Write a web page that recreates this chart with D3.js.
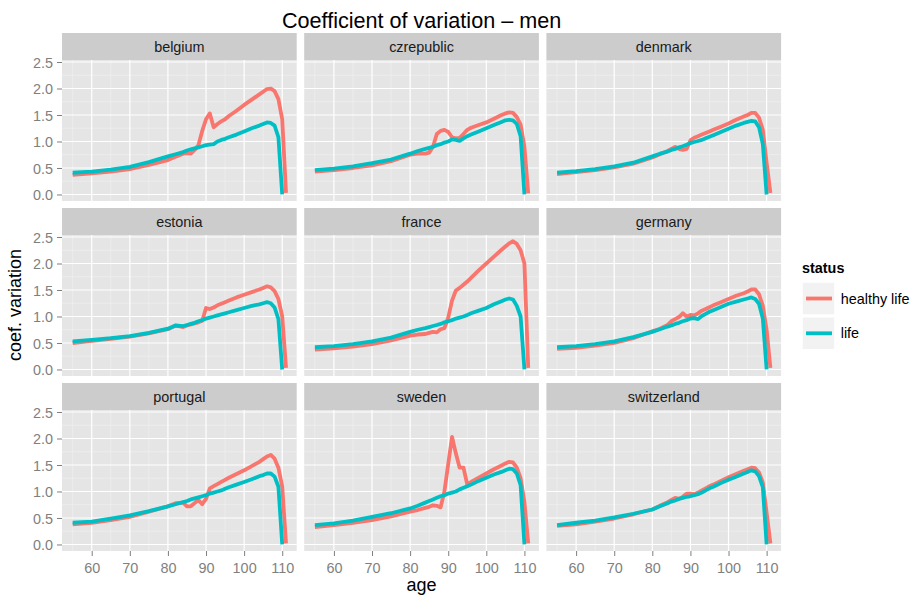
<!DOCTYPE html>
<html>
<head>
<meta charset="utf-8">
<script src="https://cdn.jsdelivr.net/npm/d3@7"></script>
<style>
  body { margin: 0; background: #ffffff; }
  svg { display: block; font-family: "Liberation Sans", Arial, Helvetica, sans-serif; }
</style>
</head>
<body>
<svg id="chart" width="914" height="597"></svg>
<script>
// Ages at which the coefficient of variation is given
const ages = [55, 60, 65, 70, 75, 80, 82, 84, 85, 86, 87, 88, 89, 90, 91, 92, 93, 94, 95, 96, 98, 100, 102, 104, 105, 106, 107, 108, 109, 110, 111];

const countries = ["belgium", "czrepublic", "denmark", "estonia", "france", "germany", "portugal", "sweden", "switzerland"];
const statuses = ["healthy life", "life"];

// "life" series end at age 110 (null at 111)
const belgiumLife      = [0.41, 0.43, 0.47, 0.52, 0.61, 0.72, 0.76, 0.80, 0.83, 0.85, 0.87, 0.89, 0.91, 0.93, 0.94, 0.95, 1.00, 1.03, 1.05, 1.08, 1.13, 1.19, 1.25, 1.30, 1.33, 1.36, 1.35, 1.30, 1.08, 0.00, null];
const belgiumHealthy   = [0.37, 0.40, 0.43, 0.48, 0.56, 0.65, 0.71, 0.77, 0.78, 0.77, 0.84, 0.93, 1.20, 1.42, 1.53, 1.27, 1.33, 1.38, 1.42, 1.48, 1.58, 1.69, 1.79, 1.89, 1.94, 1.99, 2.00, 1.95, 1.80, 1.42, 0.03];

const czrepublicLife   = [0.46, 0.49, 0.53, 0.59, 0.66, 0.77, 0.82, 0.86, 0.88, 0.90, 0.93, 0.95, 0.98, 1.00, 1.04, 1.03, 1.01, 1.06, 1.10, 1.13, 1.19, 1.25, 1.31, 1.37, 1.40, 1.41, 1.40, 1.33, 1.10, 0.00, null];
const czrepublicHealthy= [0.43, 0.46, 0.50, 0.55, 0.63, 0.75, 0.77, 0.77, 0.79, 0.90, 1.14, 1.20, 1.22, 1.18, 1.08, 1.06, 1.07, 1.14, 1.22, 1.26, 1.31, 1.36, 1.43, 1.50, 1.53, 1.55, 1.54, 1.46, 1.32, 0.90, 0.02];

const denmarkLife      = [0.41, 0.44, 0.48, 0.53, 0.60, 0.72, 0.77, 0.81, 0.84, 0.86, 0.89, 0.91, 0.94, 0.97, 0.99, 1.01, 1.03, 1.06, 1.09, 1.12, 1.18, 1.24, 1.30, 1.35, 1.37, 1.39, 1.38, 1.27, 0.95, 0.00, null];
const denmarkHealthy   = [0.385, 0.42, 0.46, 0.51, 0.58, 0.70, 0.76, 0.82, 0.86, 0.90, 0.86, 0.84, 0.86, 1.02, 1.07, 1.10, 1.13, 1.16, 1.19, 1.22, 1.28, 1.34, 1.41, 1.47, 1.50, 1.54, 1.54, 1.45, 1.22, 0.60, 0.03];

const estoniaLife      = [0.53, 0.56, 0.59, 0.63, 0.69, 0.77, 0.83, 0.82, 0.84, 0.86, 0.88, 0.91, 0.93, 0.96, 0.98, 1.00, 1.02, 1.04, 1.06, 1.08, 1.12, 1.16, 1.20, 1.23, 1.25, 1.27, 1.25, 1.17, 0.95, 0.00, null];
const estoniaHealthy   = [0.50, 0.54, 0.58, 0.62, 0.68, 0.76, 0.83, 0.80, 0.83, 0.85, 0.87, 0.89, 0.92, 1.16, 1.14, 1.17, 1.21, 1.24, 1.27, 1.30, 1.36, 1.41, 1.46, 1.51, 1.54, 1.57, 1.55, 1.48, 1.33, 1.00, 0.03];

const franceLife       = [0.42, 0.44, 0.48, 0.53, 0.60, 0.71, 0.75, 0.78, 0.80, 0.82, 0.84, 0.86, 0.89, 0.91, 0.93, 0.96, 0.98, 1.00, 1.03, 1.06, 1.11, 1.16, 1.23, 1.29, 1.32, 1.34, 1.32, 1.20, 1.00, 0.00, null];
const franceHealthy    = [0.375, 0.40, 0.43, 0.48, 0.55, 0.64, 0.66, 0.67, 0.69, 0.71, 0.70, 0.76, 0.78, 0.98, 1.30, 1.49, 1.54, 1.60, 1.66, 1.73, 1.87, 2.00, 2.13, 2.26, 2.32, 2.38, 2.42, 2.37, 2.25, 2.00, 0.03];

const germanyLife      = [0.42, 0.44, 0.48, 0.53, 0.61, 0.71, 0.76, 0.81, 0.83, 0.86, 0.88, 0.91, 0.93, 0.96, 0.97, 0.95, 1.01, 1.05, 1.09, 1.12, 1.18, 1.24, 1.28, 1.32, 1.34, 1.36, 1.33, 1.24, 0.96, 0.00, null];
const germanyHealthy   = [0.39, 0.41, 0.45, 0.50, 0.59, 0.72, 0.77, 0.84, 0.91, 0.95, 0.99, 1.06, 1.00, 1.03, 1.02, 1.06, 1.11, 1.14, 1.175, 1.21, 1.27, 1.33, 1.39, 1.44, 1.47, 1.51, 1.51, 1.42, 1.20, 0.75, 0.03];

const portugalLife     = [0.41, 0.43, 0.49, 0.55, 0.63, 0.72, 0.76, 0.80, 0.82, 0.85, 0.87, 0.89, 0.91, 0.93, 0.96, 0.98, 1.00, 1.02, 1.05, 1.08, 1.13, 1.18, 1.23, 1.29, 1.31, 1.34, 1.34, 1.28, 1.09, 0.00, null];
const portugalHealthy  = [0.38, 0.41, 0.46, 0.52, 0.62, 0.72, 0.78, 0.79, 0.72, 0.72, 0.78, 0.84, 0.76, 0.86, 1.06, 1.10, 1.14, 1.18, 1.22, 1.26, 1.33, 1.40, 1.48, 1.56, 1.61, 1.66, 1.69, 1.62, 1.45, 1.09, 0.02];

const swedenLife       = [0.365, 0.40, 0.45, 0.52, 0.59, 0.68, 0.73, 0.79, 0.82, 0.85, 0.88, 0.91, 0.93, 0.96, 0.98, 1.00, 1.04, 1.07, 1.10, 1.13, 1.20, 1.26, 1.32, 1.37, 1.40, 1.43, 1.42, 1.34, 1.12, 0.00, null];
const swedenHealthy    = [0.33, 0.365, 0.41, 0.46, 0.53, 0.62, 0.65, 0.69, 0.71, 0.74, 0.73, 0.70, 1.00, 1.52, 2.03, 1.72, 1.45, 1.45, 1.13, 1.18, 1.26, 1.34, 1.42, 1.49, 1.53, 1.56, 1.55, 1.45, 1.25, 0.80, 0.02];

const switzerlandLife    = [0.365, 0.41, 0.45, 0.51, 0.58, 0.66, 0.72, 0.78, 0.81, 0.83, 0.86, 0.88, 0.90, 0.91, 0.93, 0.95, 0.98, 1.02, 1.06, 1.09, 1.16, 1.22, 1.28, 1.34, 1.37, 1.40, 1.38, 1.29, 1.08, 0.00, null];
const switzerlandHealthy = [0.35, 0.38, 0.43, 0.49, 0.57, 0.66, 0.73, 0.80, 0.84, 0.88, 0.86, 0.90, 0.96, 0.96, 0.95, 0.98, 1.02, 1.06, 1.10, 1.13, 1.20, 1.27, 1.33, 1.39, 1.42, 1.45, 1.44, 1.36, 1.17, 0.60, 0.02];

const xTicks = [60, 70, 80, 90, 100, 110];
const xMinor = [55, 65, 75, 85, 95, 105];
const yTicks = [0, 0.5, 1.0, 1.5, 2.0, 2.5];
const yMinor = [0.25, 0.75, 1.25, 1.75, 2.25];

const seriesByCountry = {
  belgium:     { "healthy life": belgiumHealthy,     life: belgiumLife },
  czrepublic:  { "healthy life": czrepublicHealthy,  life: czrepublicLife },
  denmark:     { "healthy life": denmarkHealthy,     life: denmarkLife },
  estonia:     { "healthy life": estoniaHealthy,     life: estoniaLife },
  france:      { "healthy life": franceHealthy,      life: franceLife },
  germany:     { "healthy life": germanyHealthy,     life: germanyLife },
  portugal:    { "healthy life": portugalHealthy,    life: portugalLife },
  sweden:      { "healthy life": swedenHealthy,      life: swedenLife },
  switzerland: { "healthy life": switzerlandHealthy, life: switzerlandLife }
};

// Layout of the 3x3 facet grid
const panelW = 234.7, panelH = 141, stripH = 27, gapX = 7.5, gapY = 7;
const left0 = 62, top0 = 33;
const fontFamily = '"Liberation Sans", Arial, Helvetica, sans-serif';

const color = d3.scaleOrdinal().domain(statuses).range(["#F8766D", "#00BFC4"]);
const x = d3.scaleLinear().domain([52.2, 113.8]).range([0, panelW]);
const y = d3.scaleLinear().domain([-0.123, 2.538]).range([panelH, 0]);

const svg = d3.select("#chart");
svg.append("rect").attr("width", 914).attr("height", 597).attr("fill", "#ffffff");

const line = d3.line()
  .defined(d => d.v != null)
  .x(d => x(d.age))
  .y(d => y(d.v));

countries.forEach((country, i) => {
  const col = i % 3, row = Math.floor(i / 3);
  const g = svg.append("g")
    .attr("transform", `translate(${left0 + col * (panelW + gapX)},${top0 + row * (stripH + panelH + gapY)})`);

  // strip
  g.append("rect").attr("width", panelW).attr("height", stripH).attr("fill", "#CCCCCC");
  g.append("text")
    .attr("x", panelW / 2).attr("y", stripH / 2 + 5)
    .attr("text-anchor", "middle")
    .attr("font-size", 14.4).attr("fill", "#1A1A1A")
    .text(country);

  const p = g.append("g").attr("transform", `translate(0,${stripH})`);
  p.append("rect").attr("width", panelW).attr("height", panelH).attr("fill", "#E5E5E5");

  // minor grid
  p.selectAll(".vmin").data(xMinor).join("line")
    .attr("x1", d => x(d)).attr("x2", d => x(d)).attr("y1", 0).attr("y2", panelH)
    .attr("stroke", "#F2F2F2").attr("stroke-width", 0.6);
  p.selectAll(".hmin").data(yMinor).join("line")
    .attr("x1", 0).attr("x2", panelW).attr("y1", d => y(d)).attr("y2", d => y(d))
    .attr("stroke", "#F2F2F2").attr("stroke-width", 0.6);
  // major grid
  p.selectAll(".vmaj").data(xTicks).join("line")
    .attr("x1", d => x(d)).attr("x2", d => x(d)).attr("y1", 0).attr("y2", panelH)
    .attr("stroke", "#FFFFFF").attr("stroke-width", 1.2);
  p.selectAll(".hmaj").data(yTicks).join("line")
    .attr("x1", 0).attr("x2", panelW).attr("y1", d => y(d)).attr("y2", d => y(d))
    .attr("stroke", "#FFFFFF").attr("stroke-width", 1.2);

  // lines: healthy life first, life on top
  statuses.forEach(s => {
    const vals = seriesByCountry[country][s];
    const pts = ages.map((a, k) => ({ age: a, v: vals[k] }));
    p.append("path")
      .datum(pts)
      .attr("d", line)
      .attr("fill", "none")
      .attr("stroke", color(s))
      .attr("stroke-width", 3.8)
      .attr("stroke-linejoin", "round")
      .attr("stroke-linecap", "butt");
  });

  // y axis on the first column
  if (col === 0) {
    const ax = p.append("g").call(
      d3.axisLeft(y).tickValues(yTicks).tickSize(5).tickPadding(4).tickFormat(d3.format(".1f"))
    );
    ax.select(".domain").remove();
    ax.selectAll(".tick line").attr("stroke", "#7F7F7F").attr("stroke-width", 1);
    ax.selectAll(".tick text")
      .attr("fill", "#7F7F7F").attr("font-size", 14.4).attr("font-family", fontFamily)
      .attr("dy", "0.36em");
  }
  // x axis on the bottom row
  if (row === 2) {
    const ax = p.append("g").attr("transform", `translate(0,${panelH})`).call(
      d3.axisBottom(x).tickValues(xTicks).tickSize(5).tickPadding(7)
    );
    ax.select(".domain").remove();
    ax.selectAll(".tick line").attr("stroke", "#7F7F7F").attr("stroke-width", 1);
    ax.selectAll(".tick text")
      .attr("fill", "#7F7F7F").attr("font-size", 14.4).attr("font-family", fontFamily);
  }
});

const plotRight = left0 + 3 * panelW + 2 * gapX;

// title
svg.append("text")
  .attr("x", (left0 + plotRight) / 2).attr("y", 27.5)
  .attr("text-anchor", "middle").attr("font-size", 21.6).attr("fill", "#000")
  .text("Coefficient of variation \u2013 men");

// axis titles
svg.append("text")
  .attr("x", (left0 + plotRight) / 2).attr("y", 591)
  .attr("text-anchor", "middle").attr("font-size", 18).attr("fill", "#000")
  .text("age");
svg.append("text")
  .attr("transform", "translate(21,305) rotate(-90)")
  .attr("text-anchor", "middle").attr("font-size", 18).attr("fill", "#000")
  .text("coef. variation");

// legend
const lg = svg.append("g").attr("transform", "translate(802,0)");
lg.append("text").attr("x", 0).attr("y", 272.5)
  .attr("font-size", 14.4).attr("font-weight", "bold").attr("fill", "#000")
  .text("status");
statuses.forEach((s, k) => {
  const ky = 282 + k * 34.8;
  lg.append("rect").attr("x", 0).attr("y", ky).attr("width", 33).attr("height", 33)
    .attr("fill", "#F2F2F2").attr("stroke", "#FFFFFF").attr("stroke-width", 1.5);
  lg.append("line").attr("x1", 4).attr("x2", 30).attr("y1", ky + 16.5).attr("y2", ky + 16.5)
    .attr("stroke", color(s)).attr("stroke-width", 3.8);
  lg.append("text").attr("x", 38.7).attr("y", ky + 16.5 + 5)
    .attr("font-size", 14.4).attr("fill", "#000")
    .text(s);
});
</script>
</body>
</html>
